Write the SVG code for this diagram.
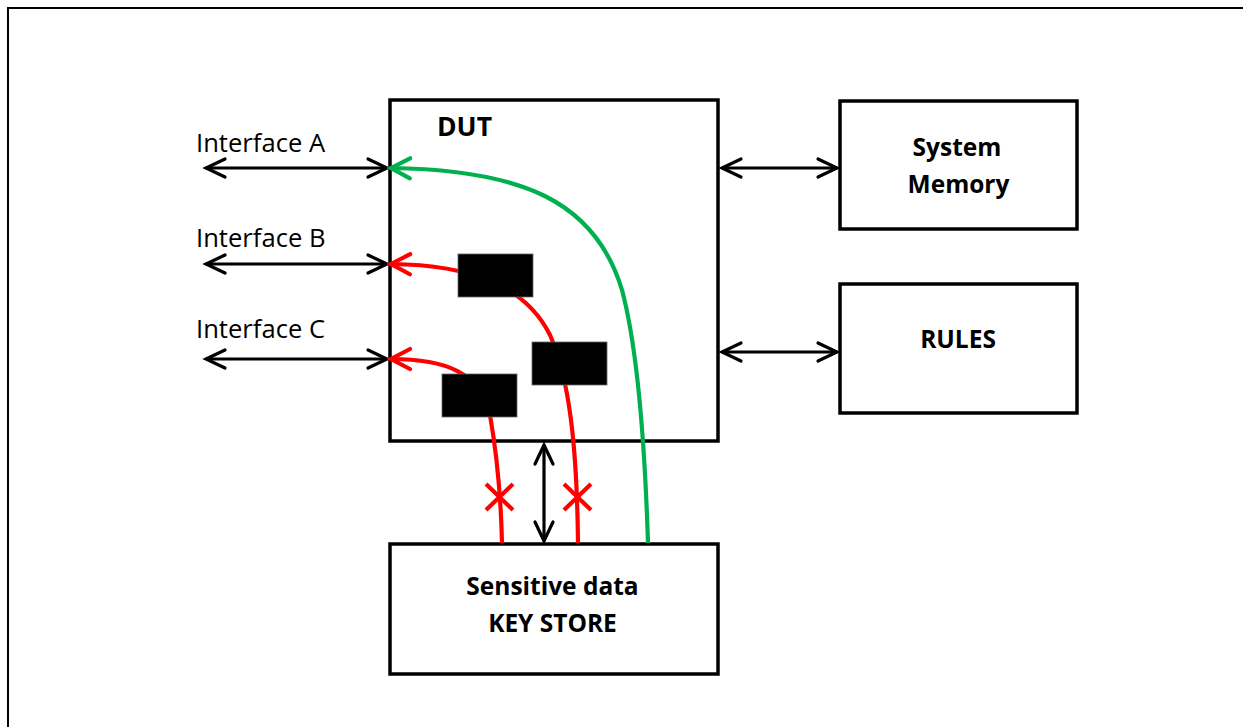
<svg xmlns="http://www.w3.org/2000/svg" width="1243" height="727" viewBox="0 0 1243 727">
<style>
.box{fill:#fff;stroke:#000;stroke-width:3.5}
.lbl{font-family:"Open Sans","Noto Sans","Liberation Sans",sans-serif;font-size:25.6px;fill:#000}
.bold{font-family:"Open Sans","Noto Sans","Liberation Sans",sans-serif;font-size:24.5px;font-weight:bold;fill:#000}
.blk{fill:none;stroke:#000;stroke-width:3.2}
.red{fill:none;stroke:#FF0000;stroke-width:4.2}
.grn{fill:none;stroke:#00B050;stroke-width:4.2}
.mask{fill:#000;stroke:#666;stroke-width:0.8}
</style>
<defs>
<marker id="ab" viewBox="-25 -15 30 30" refX="0" refY="0" markerWidth="30" markerHeight="30" markerUnits="userSpaceOnUse" orient="auto-start-reverse">
<path d="M-19,-9 L0,0 L-19,9" fill="none" stroke="#000" stroke-width="3.2" stroke-linecap="round" stroke-linejoin="miter"/>
</marker>
<marker id="ar" viewBox="-25 -15 30 30" refX="0" refY="0" markerWidth="30" markerHeight="30" markerUnits="userSpaceOnUse" orient="auto-start-reverse">
<path d="M-19,-10 L0,0 L-19,10" fill="none" stroke="#FF0000" stroke-width="4.2" stroke-linecap="round"/>
</marker>
<marker id="ag" viewBox="-25 -15 30 30" refX="0" refY="0" markerWidth="30" markerHeight="30" markerUnits="userSpaceOnUse" orient="auto-start-reverse">
<path d="M-19,-10 L0,0 L-19,10" fill="none" stroke="#00B050" stroke-width="4.2" stroke-linecap="round"/>
</marker>
</defs>
<rect width="1243" height="727" fill="#fff"/>
<path d="M8,727 L8,8 L1243,8" fill="none" stroke="#000" stroke-width="2"/>

<g id="dut"><rect class="box" x="390" y="100" width="328" height="341"/><text class="bold" x="437" y="136" style="font-size:26.5px">DUT</text></g>
<g id="system-memory"><rect class="box" x="840" y="101" width="237" height="128"/><text class="bold" x="957" y="156" text-anchor="middle">System</text><text class="bold" x="958.5" y="193" text-anchor="middle">Memory</text></g>
<g id="rules"><rect class="box" x="840" y="284" width="237" height="129"/><text class="bold" x="958" y="348" text-anchor="middle">RULES</text></g>
<g id="key-store"><rect class="box" x="390" y="544" width="328" height="130"/><text class="bold" x="552.5" y="595" text-anchor="middle">Sensitive data</text><text class="bold" x="552.5" y="632" text-anchor="middle">KEY STORE</text></g>
<g id="interface-labels">
<text class="lbl" x="196" y="152">Interface A</text>
<text class="lbl" x="196" y="247">Interface B</text>
<text class="lbl" x="196" y="338">Interface C</text>
</g>

<g id="connectors">
<line class="blk" x1="206" y1="168" x2="387" y2="168" marker-start="url(#ab)" marker-end="url(#ab)"/>
<line class="blk" x1="206" y1="264" x2="387" y2="264" marker-start="url(#ab)" marker-end="url(#ab)"/>
<line class="blk" x1="206" y1="359" x2="387" y2="359" marker-start="url(#ab)" marker-end="url(#ab)"/>
<line class="blk" x1="722" y1="168" x2="837" y2="168" marker-start="url(#ab)" marker-end="url(#ab)"/>
<line class="blk" x1="722" y1="352" x2="837" y2="352" marker-start="url(#ab)" marker-end="url(#ab)"/>
<line class="blk" x1="544" y1="445" x2="544" y2="541" marker-start="url(#ab)" marker-end="url(#ab)"/>
<path class="grn" d="M391,168 C520,170 595,200 622,290 C638,350 645,450 648,543" marker-start="url(#ag)"/>
<path class="red" d="M391,264 C470,265 525,285 550,335 C570,380 577,450 578,543" marker-start="url(#ar)"/>
<path class="red" d="M391,359 C445,359 480,372 490,415 C497,455 501,500 502,543" marker-start="url(#ar)"/>
<path d="M486,484 L513,510 M513,484 L486,510" stroke="#FF0000" stroke-width="4.2" fill="none"/>
<path d="M564,484 L591,510 M591,484 L564,510" stroke="#FF0000" stroke-width="4.2" fill="none"/>
</g>

<g id="blocker-1"><rect class="mask" x="458" y="254" width="75" height="43"/></g>
<g id="blocker-2"><rect class="mask" x="532" y="342" width="75" height="43"/></g>
<g id="blocker-3"><rect class="mask" x="442" y="374" width="75" height="43"/></g>
</svg>
